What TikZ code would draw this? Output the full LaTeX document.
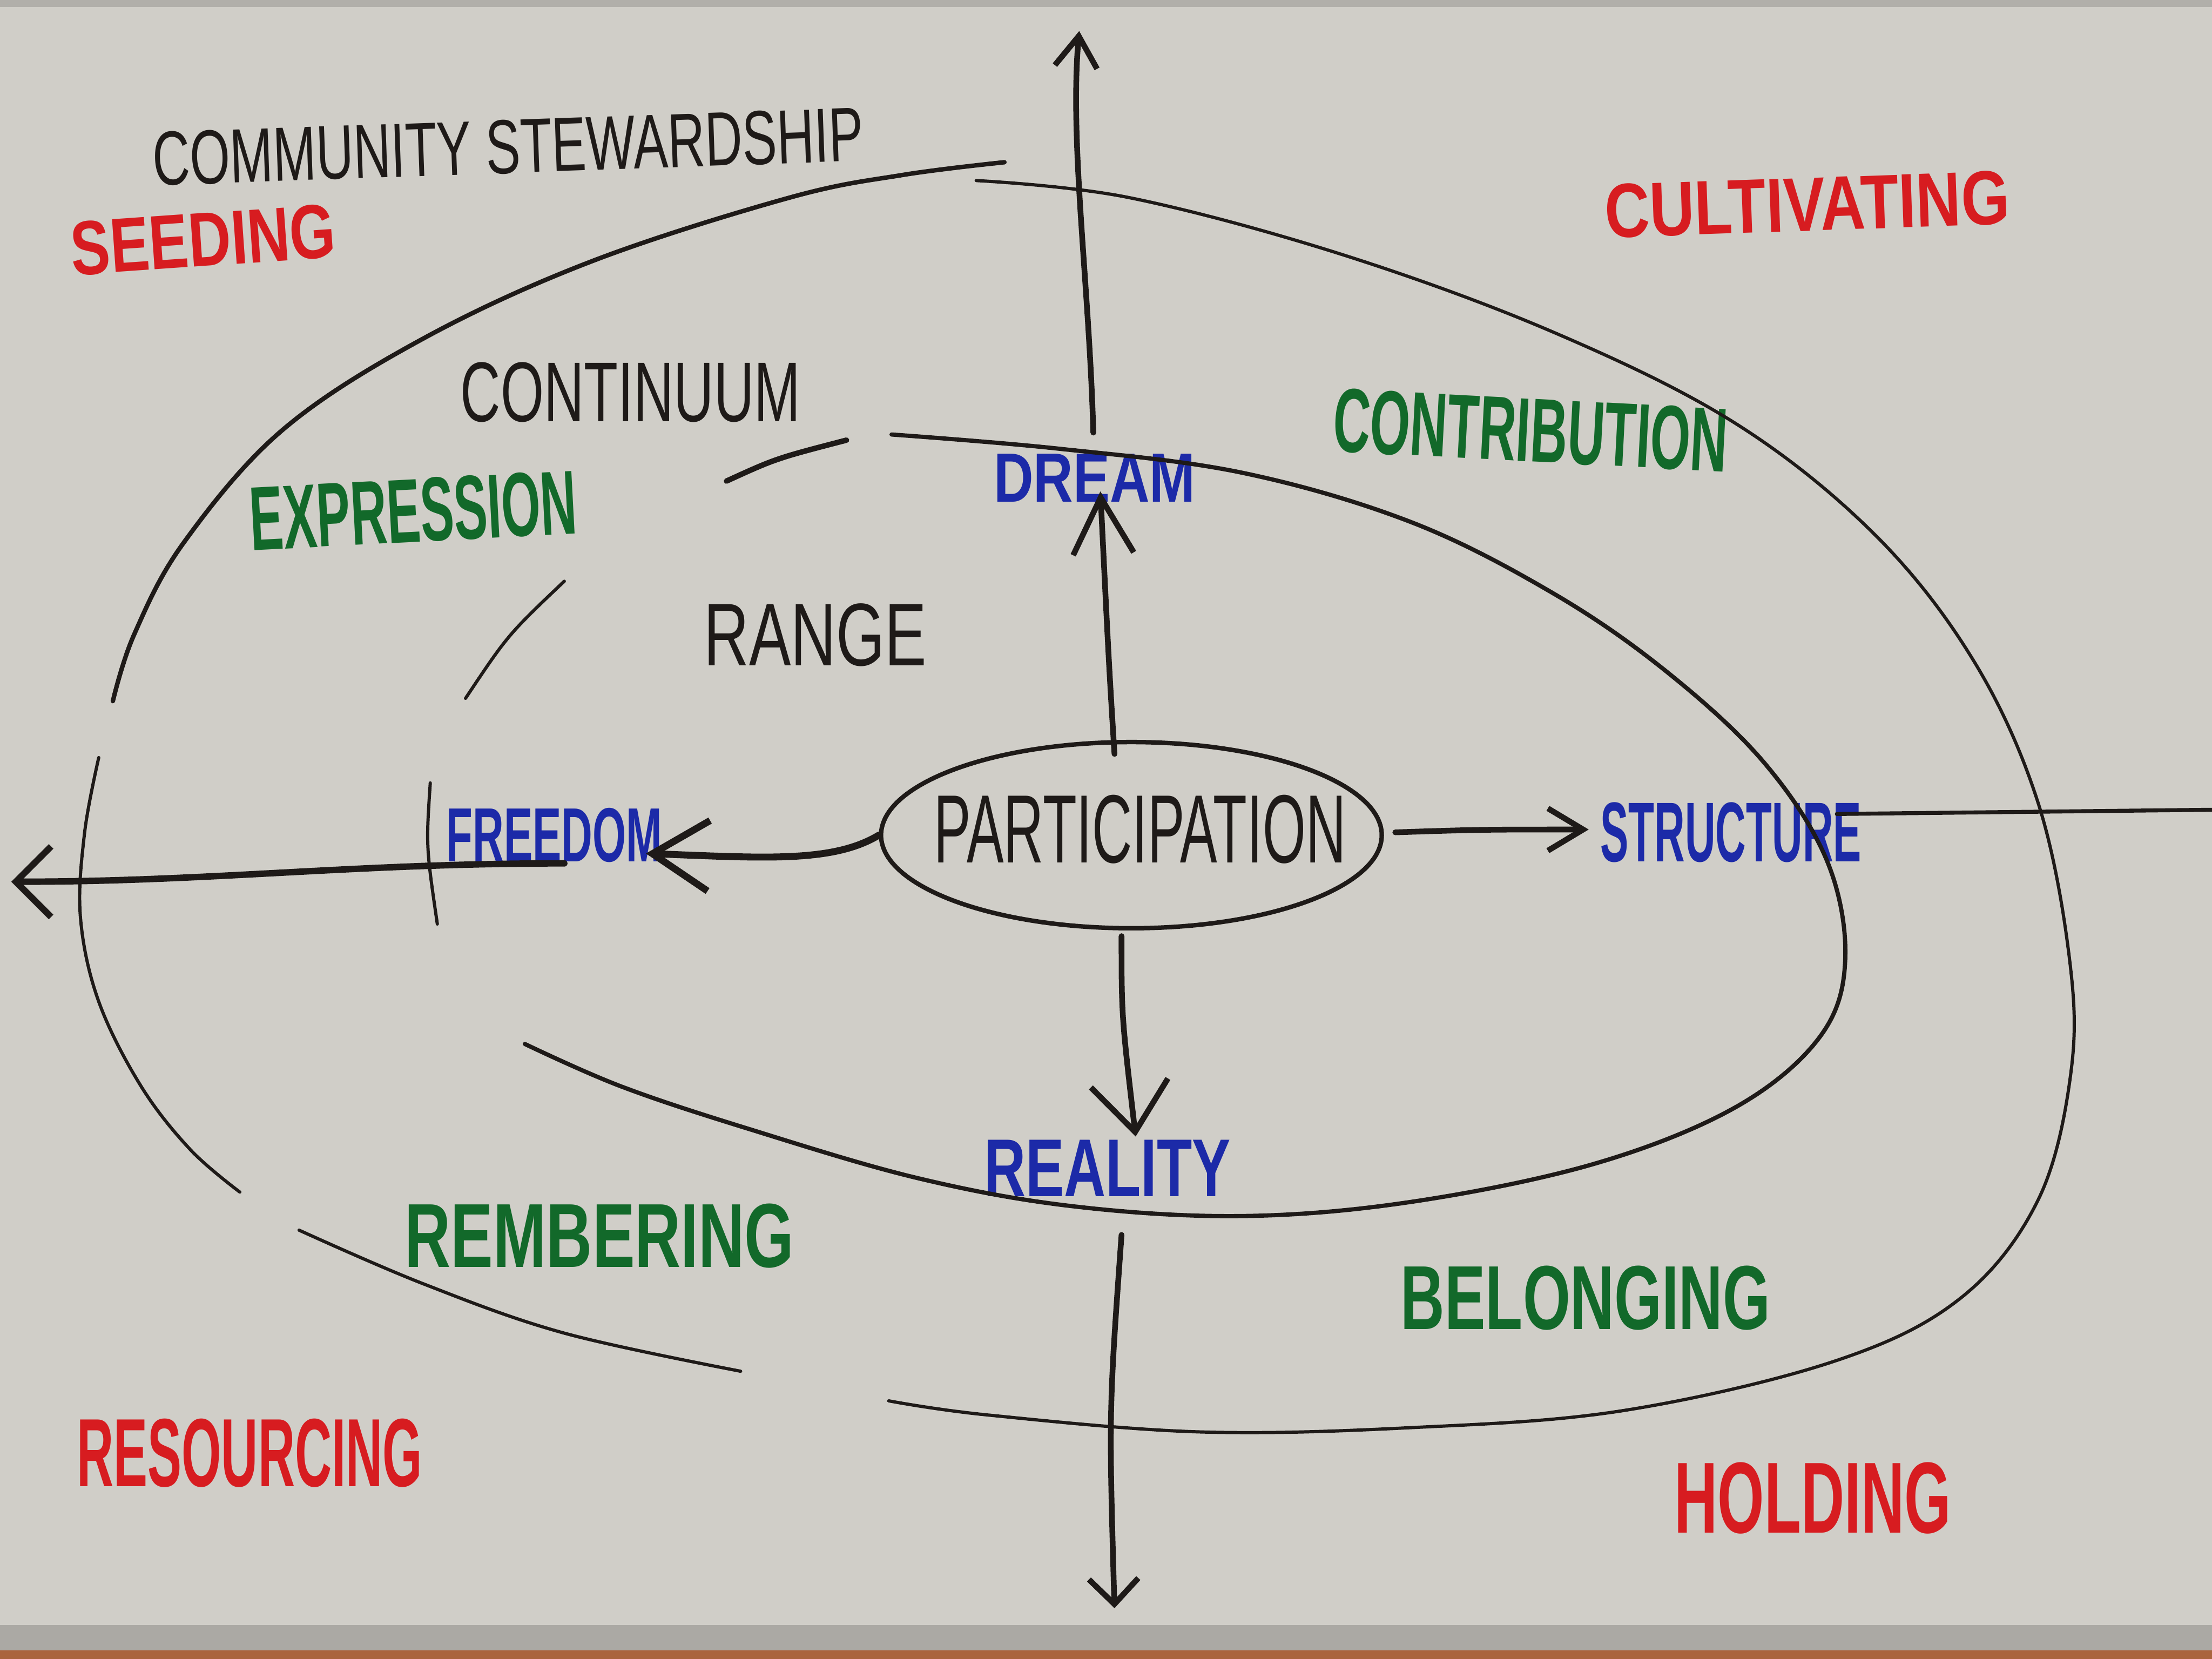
\documentclass[tikz,border=0pt]{standalone}
\usepackage{fontspec}
\setmainfont{Liberation Sans}
\usetikzlibrary{arrows.meta,shapes.geometric,calc}
\newdimen\pxu \pxu=0.02cm
\newcommand{\hw}[3]{\resizebox{#1\pxu}{#2\pxu}{#3}}
\definecolor{board}{RGB}{208,206,200}
\definecolor{ink}{RGB}{30,26,24}
\definecolor{mred}{RGB}{215,28,32}
\definecolor{mgreen}{RGB}{18,105,42}
\definecolor{mblue}{RGB}{28,42,168}
\definecolor{ledge}{RGB}{170,100,62}
\begin{document}
\begin{tikzpicture}[x=0.02cm,y=-0.02cm,
  lbl/.style={inner sep=0pt,font=\bfseries},
  blk/.style={inner sep=0pt,font=\normalfont,text=ink},
  outerln/.style={draw=ink,line width=1.3pt,line cap=round},
  innerln/.style={draw=ink,line width=1.7pt,line cap=round},
  arr/.style={draw=ink,line width=2.3pt,line cap=round}]
% board
\fill[board] (0,0) rectangle (1568,1176);
\fill[board!85!black] (0,0) rectangle (1568,5);
\fill[board!82!black] (0,1152) rectangle (1568,1170);
\fill[ledge] (0,1170) rectangle (1568,1176);
\useasboundingbox (0,0) rectangle (1568,1176);

% texts
\node[blk,rotate=2] (cs) at (360,104) {\hw{504}{38}{COMMUNITY STEWARDSHIP}};
\node[lbl,text=mred,rotate=4] (seed) at (144,170) {\hw{188}{38}{SEEDING}};
\node[lbl,text=mred,rotate=2] (cult) at (1281,145) {\hw{287}{38}{CULTIVATING}};
\node[blk] (cont) at (447,278) {\hw{241}{42}{CONTINUUM}};
\node[lbl,text=mgreen,rotate=-3] (contr) at (1085,305) {\hw{280}{45}{CONTRIBUTION}};
\node[lbl,text=mgreen,rotate=3] (expr) at (293,362) {\hw{232}{45}{EXPRESSION}};
\node[lbl,text=mblue] (dream) at (776,339) {\hw{143}{34}{DREAM}};
\node[blk] (range) at (578,450) {\hw{158}{44}{RANGE}};
\node[ellipse,draw=ink,line width=1.8pt,minimum width=7.1cm,minimum height=2.64cm,inner sep=0pt] (part) at (802,592) {};
\node[blk] (parttext) at (808,588) {\hw{292}{48}{PARTICIPATION}};
\node[lbl,text=mblue] (freedom) at (393,592) {\hw{153}{38}{FREEDOM}};
\node[lbl,text=mblue] (structure) at (1227,590) {\hw{185}{42}{STRUCTURE}};
\node[lbl,text=mblue] (reality) at (785,828) {\hw{175}{40}{REALITY}};
\node[lbl,text=mgreen] (remb) at (425,876) {\hw{276}{45}{REMBERING}};
\node[lbl,text=mgreen] (belong) at (1124,920) {\hw{262}{45}{BELONGING}};
\node[lbl,text=mred] (resour) at (177,1030) {\hw{245}{48}{RESOURCING}};
\node[lbl,text=mred] (hold) at (1285,1062) {\hw{196}{50}{HOLDING}};

% outer loop
\draw[outerln,line width=1.8pt] plot[smooth,tension=0.6] coordinates {(80,497) (95,450) (130,385) (200,305) (300,240) (420,185) (560,140) (640,124) (712,115)};
\draw[outerln] plot[smooth,tension=0.6] coordinates {(692,128) (800,140) (950,180) (1100,235) (1230,300) (1330,380) (1400,470) (1445,570) (1467,680) (1468,760) (1445,850) (1390,920) (1300,965) (1150,1000) (1000,1012) (850,1015) (700,1003) (630,993)};
\draw[outerln] plot[smooth,tension=0.6] coordinates {(70,537) (60,590) (57,650) (70,710) (100,770) (135,815) (170,845)};
\draw[outerln] plot[smooth,tension=0.6] coordinates {(212,872) (300,910) (400,945) (525,972)};

% inner loop
\draw[innerln] plot[smooth,tension=0.6] coordinates {(632,308) (750,318) (880,335) (1000,370) (1100,420) (1180,475) (1250,540) (1295,610) (1308,680) (1290,735) (1230,785) (1130,825) (1000,852) (880,862) (760,855) (650,835) (530,800) (440,770) (372,740)};
\draw[innerln,line width=2.2pt] (515,341) .. controls (550,325) .. (600,312);
\draw[outerln] (330,495) .. controls (360,450) .. (400,412);
\draw[outerln] (305,555) .. controls (302,600) .. (310,655);

% connectors
\coordinate (topend) at (765,22);
\coordinate (botend) at (790,1140);
\coordinate (leftstart) at (400,612);
\coordinate (leftend) at (8,625);
\coordinate (rightstart) at (1302,577);
\coordinate (rightend) at (1568,574);

\draw[arr,-{Straight Barb[length=0.44cm,width=0.6cm]}] ($(dream.north)+(-1,-15)$) .. controls (772,200) and (758,100) .. (topend);
\draw[arr,-{Straight Barb[length=0.8cm,width=0.86cm]}] ($(part.north)+(-12,10)$) .. controls (786,470) .. ($(dream.south)+(4,-8)$);
\draw[arr,-{Straight Barb[length=0.7cm,width=1.1cm]}] ($(part.south)+(-7,4)$) .. controls (795,720) .. ($(reality.north)+(20,-2)$);
\draw[arr,-{Straight Barb[length=0.36cm,width=0.7cm]}] ($(reality.south)+(10,27)$) .. controls (786,1000) .. (botend);
\draw[arr,line width=2.8pt,-{Straight Barb[length=0.8cm,width=1.0cm]}] (part.west) .. controls (590,612) and (540,608) .. ($(freedom.east)+(-12,13)$);
\draw[arr,line width=2.6pt,-{Straight Barb[length=0.5cm,width=1.0cm]}] (leftstart) .. controls (250,612) and (150,625) .. (leftend);
\draw[arr,-{Straight Barb[length=0.5cm,width=0.6cm]}] ($(part.east)+(8,-2)$) .. controls (1050,588) .. ($(structure.west)+(-8,-2)$);
\draw[arr,line width=1.6pt] (rightstart) -- (rightend);
\end{tikzpicture}
\end{document}
